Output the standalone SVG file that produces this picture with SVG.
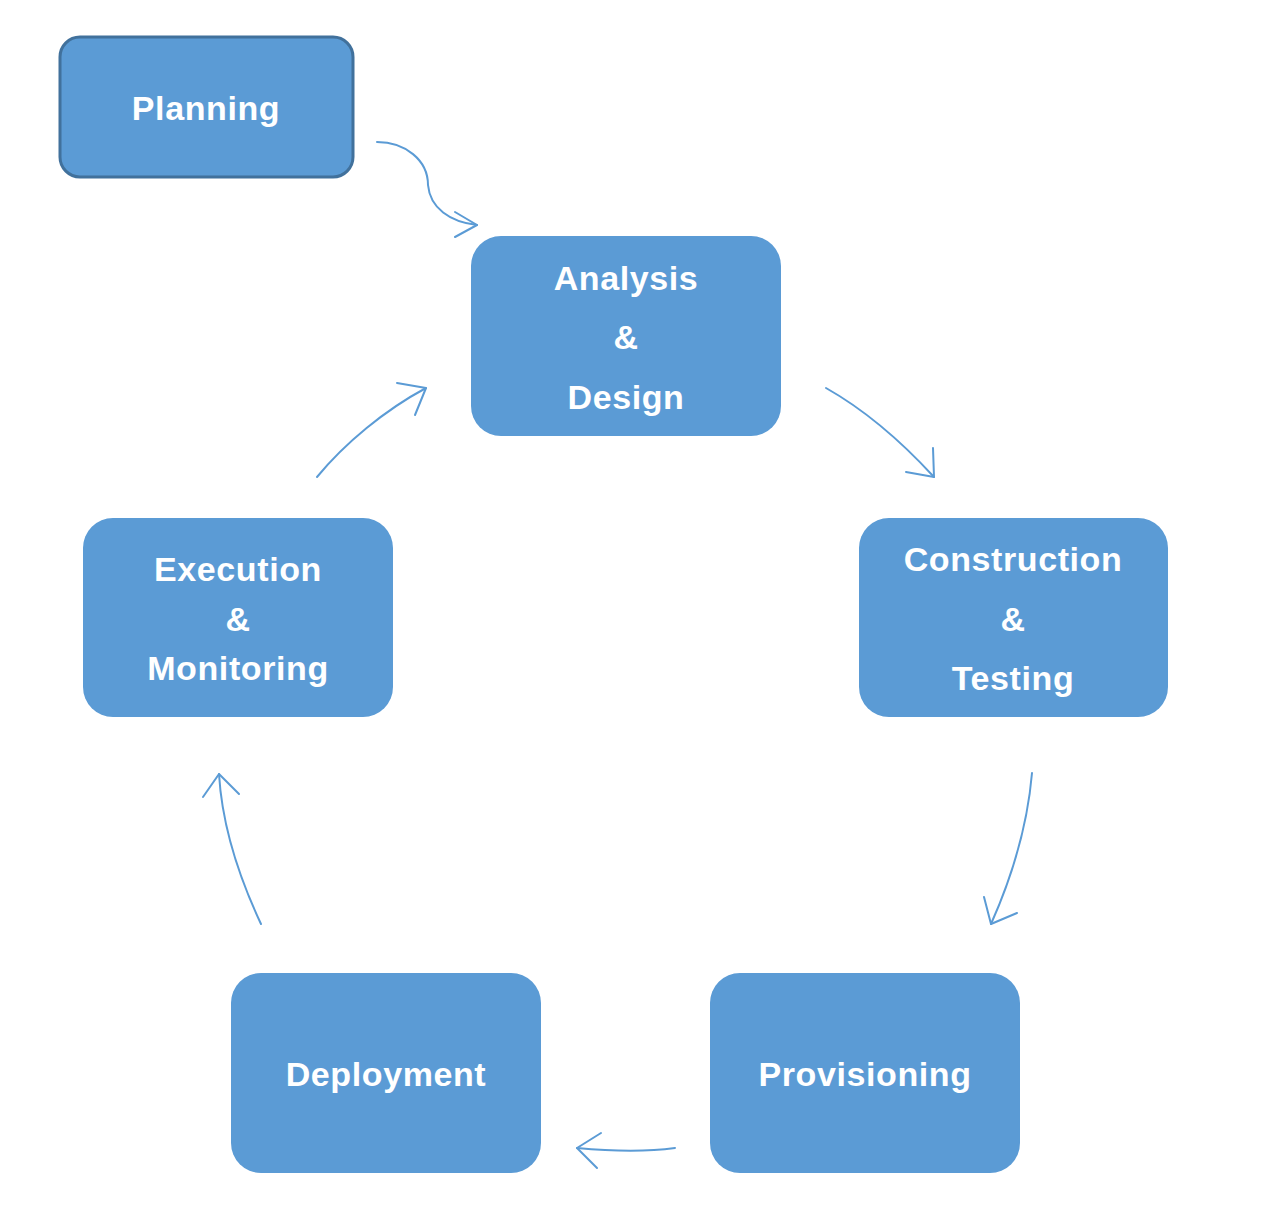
<svg xmlns="http://www.w3.org/2000/svg" width="1267" height="1215" viewBox="0 0 1267 1215">
<style>
.box{fill:#5B9BD5;}
.lbl{fill:#FFFFFF;font-family:"Liberation Sans",Arial,sans-serif;font-weight:bold;font-size:34px;text-anchor:middle;letter-spacing:0.6px;}
.con{fill:none;stroke:#5B9BD5;stroke-width:2;stroke-linecap:round;stroke-linejoin:round;}
</style>
<rect width="1267" height="1215" fill="#FFFFFF"/>
<g id="planning">
<rect x="60" y="37" width="293" height="140" rx="20" class="box" stroke="#41719C" stroke-width="3"/>
<text x="206" y="120" class="lbl">Planning</text>
</g>
<g id="analysis">
<rect x="471" y="236" width="310" height="200" rx="30" class="box"/>
<text x="626" y="290" class="lbl">Analysis</text>
<text x="626" y="349" class="lbl">&amp;</text>
<text x="626" y="409" class="lbl">Design</text>
</g>
<g id="construction">
<rect x="859" y="518" width="309" height="199" rx="30" class="box"/>
<text x="1013" y="571" class="lbl">Construction</text>
<text x="1013" y="631" class="lbl">&amp;</text>
<text x="1013" y="690" class="lbl">Testing</text>
</g>
<g id="provisioning">
<rect x="710" y="973" width="310" height="200" rx="30" class="box"/>
<text x="865" y="1086" class="lbl">Provisioning</text>
</g>
<g id="deployment">
<rect x="231" y="973" width="310" height="200" rx="30" class="box"/>
<text x="386" y="1086" class="lbl">Deployment</text>
</g>
<g id="execution">
<rect x="83" y="518" width="310" height="199" rx="30" class="box"/>
<text x="238" y="581" class="lbl">Execution</text>
<text x="238" y="631" class="lbl">&amp;</text>
<text x="238" y="680" class="lbl">Monitoring</text>
</g>
<g id="connectors">
<path class="con" d="M377,142 C405,142 428,160 428,185 C430,208 450,222 477,225"/>
<path class="con" d="M455,212 L477,225 L455,237"/>
<path class="con" d="M826,388 C865,410 900,440 934,477"/>
<path class="con" d="M933,448 L934,477 L906,472"/>
<path class="con" d="M1032,773 C1028,820 1015,870 991,924"/>
<path class="con" d="M984,897 L991,924 L1017,913"/>
<path class="con" d="M675,1148 C645,1152 610,1151 577,1148"/>
<path class="con" d="M601,1133 L577,1148 L597,1168"/>
<path class="con" d="M261,924 C238,875 222,825 219,774"/>
<path class="con" d="M203,797 L219,774 L239,794"/>
<path class="con" d="M317,477 C345,443 385,410 426,388"/>
<path class="con" d="M397,383 L426,388 L415,415"/>
</g>
</svg>
